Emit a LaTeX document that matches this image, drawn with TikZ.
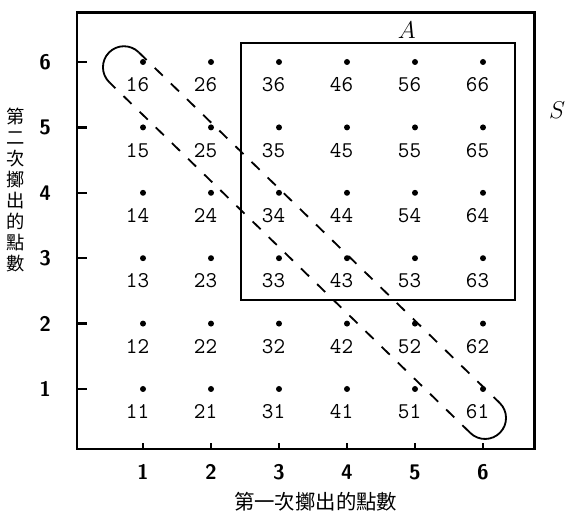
\documentclass[tikz,border=0pt]{standalone}
\usepackage{fontspec}
\newfontfamily\cjk{Noto Sans CJK TC}
\usepackage{tikz}
\usetikzlibrary{calc}

\begin{document}
\begin{tikzpicture}[x=1.7cm,y=1.635cm,
		rahmen/.style={line width=1.8pt},
		strich/.style={line width=1.3pt, dash pattern=on 8pt off 8pt},
		bogen/.style={line width=1.3pt},
		punkt/.style={circle, fill, inner sep=0pt, minimum size=0.15cm},
		zahl/.style={font=\fontsize{16}{18}\selectfont\ttfamily},
		achse/.style={font=\fontsize{15}{17}\selectfont\sffamily\bfseries}]
	\useasboundingbox (-1.103,-0.957) rectangle (7.206,6.948);
	
	% Ereignisraum S und Ereignis A
	\draw[rahmen] (0.03,0.08) rectangle (6.76,6.76);
	\draw[rahmen] (2.44,2.36) rectangle (6.47,6.29);
	\node (nA) at (4.88,6.49) {\fontsize{17}{19}\selectfont$A$};
	\node (nS) at (7.09,5.27) {\fontsize{17}{19}\selectfont$S$};
	
	% Achsenbeschriftung
	\foreach \i in {1,...,6} {
		\draw[rahmen] (\i,0.08) -- (\i,0.17);
		\node[achse] (x\i) at (\i,-0.27) {\i};
		\draw[rahmen] (0.03,\i) -- (0.18,\i);
		\node[achse] (y\i) at (-0.44,\i) {\i};
	}
	\node[font=\cjk\fontsize{14.5}{16}\selectfont] (xlab) at (3.54,-0.73) {第一次擲出的點數};
	\node[font=\cjk\fontsize{13}{14.9}\selectfont, align=center] (ylab) at (-0.88,4.04) {第\\二\\次\\擲\\出\\的\\點\\數};
	
	% Punkte mit Beschriftung
	\foreach \i in {1,...,6} {
		\foreach \j in {1,...,6} {
			\node[punkt] (p\i\j) at (\i,\j) {};
			\node[zahl] (n\i\j) at (\i-0.08,\j-0.35) {\i\j};
		}
	}
	
	% Schleife um 16 ... 61
	\coordinate (e16) at (0.72,5.92);
	\coordinate (e61) at (6.03,0.557);
	\draw[strich] ($(e16)+(45.8:0.525cm)$) -- ($(e61)+(45.8:0.525cm)$);
	\draw[strich] ($(e61)+(225.8:0.525cm)$) -- ($(e16)+(225.8:0.525cm)$);
	\draw[bogen] ($(e61)+(45.8:0.525cm)$) arc[start angle=45.8, end angle=-134.2, radius=0.525cm];
	\draw[bogen] ($(e16)+(225.8:0.525cm)$) arc[start angle=225.8, end angle=45.8, radius=0.525cm];
\end{tikzpicture}
\end{document}
